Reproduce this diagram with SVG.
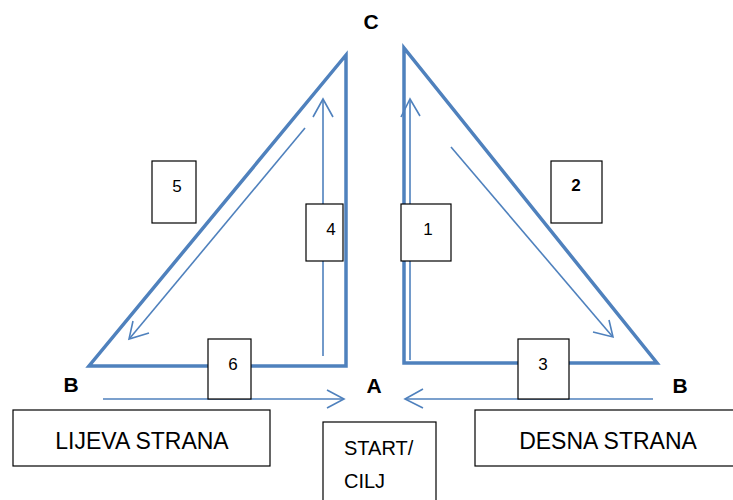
<svg xmlns="http://www.w3.org/2000/svg" width="733" height="500" viewBox="0 0 733 500">
<defs>
<style>
.thick{fill:none;stroke:#4F81BD;stroke-width:3.5;stroke-linejoin:miter}
.thin{fill:none;stroke:#4F81BD;stroke-width:1.6}
.box{fill:#fff;stroke:#000;stroke-width:1.2}
.num{font-family:"Liberation Sans",Arial,sans-serif;font-size:17px;fill:#000;text-anchor:middle}
.lbl{font-family:"Liberation Sans",Arial,sans-serif;font-size:21px;font-weight:bold;fill:#000;text-anchor:middle}
.big{font-family:"Liberation Sans",Arial,sans-serif;font-size:23px;fill:#000;text-anchor:middle}
.sc{font-family:"Liberation Sans",Arial,sans-serif;font-size:20px;fill:#000}
</style>
</defs>
<rect width="733" height="500" fill="#fff"/>
<g id="connectors">
<polygon class="thick" points="346,55 346,366 89,366"/>
<polygon class="thick" points="404,48 404,363 657,363"/>
<line class="thin" x1="323" y1="356" x2="323" y2="99"/>
<polyline class="thin" points="313,117 323,99 333,117"/>
<line class="thin" x1="305" y1="128" x2="130" y2="338"/>
<polyline class="thin" points="133,321 129,339 149,333"/>
<line class="thin" x1="410" y1="360" x2="410" y2="100"/>
<polyline class="thin" points="401,117 410,99 420,116"/>
<line class="thin" x1="451" y1="147" x2="612" y2="336"/>
<polyline class="thin" points="609,320 613,337 593,332"/>
<line class="thin" x1="103" y1="399" x2="343" y2="399"/>
<polyline class="thin" points="327,390 344,399 327,408"/>
<line class="thin" x1="653" y1="399" x2="406" y2="399"/>
<polyline class="thin" points="423,389 405,399 423,408"/>
</g>
<g id="node-5"><rect class="box" x="152" y="161" width="44" height="62"/><text class="num" x="177" y="192">5</text></g>
<g id="node-4"><rect class="box" x="306" y="204" width="37" height="57"/><text class="num" x="331" y="235">4</text></g>
<g id="node-1"><rect class="box" x="401" y="204" width="50" height="57"/><text class="num" x="428" y="235">1</text></g>
<g id="node-2"><rect class="box" x="551" y="161" width="51" height="62"/><text class="num" x="576" y="191" font-weight="bold">2</text></g>
<g id="node-6"><rect class="box" x="208" y="339" width="43" height="60"/><text class="num" x="233" y="370">6</text></g>
<g id="node-3"><rect class="box" x="518" y="339" width="51" height="60"/><text class="num" x="543" y="370">3</text></g>
<g id="label-C"><text class="lbl" x="371" y="29">C</text></g>
<g id="label-B-left"><text class="lbl" x="71" y="392">B</text></g>
<g id="label-A"><text class="lbl" x="374" y="393">A</text></g>
<g id="label-B-right"><text class="lbl" x="680" y="393">B</text></g>
<g id="node-lijeva"><rect class="box" x="13" y="410" width="257" height="56"/><text class="big" x="142" y="449">LIJEVA STRANA</text></g>
<g id="node-desna"><rect class="box" x="475" y="410" width="262" height="56"/><text class="big" x="608" y="449">DESNA STRANA</text></g>
<g id="node-start"><rect class="box" x="323" y="422" width="113" height="82"/><text class="sc" x="344" y="455">START/</text><text class="sc" x="344" y="488">CILJ</text></g>
</svg>
